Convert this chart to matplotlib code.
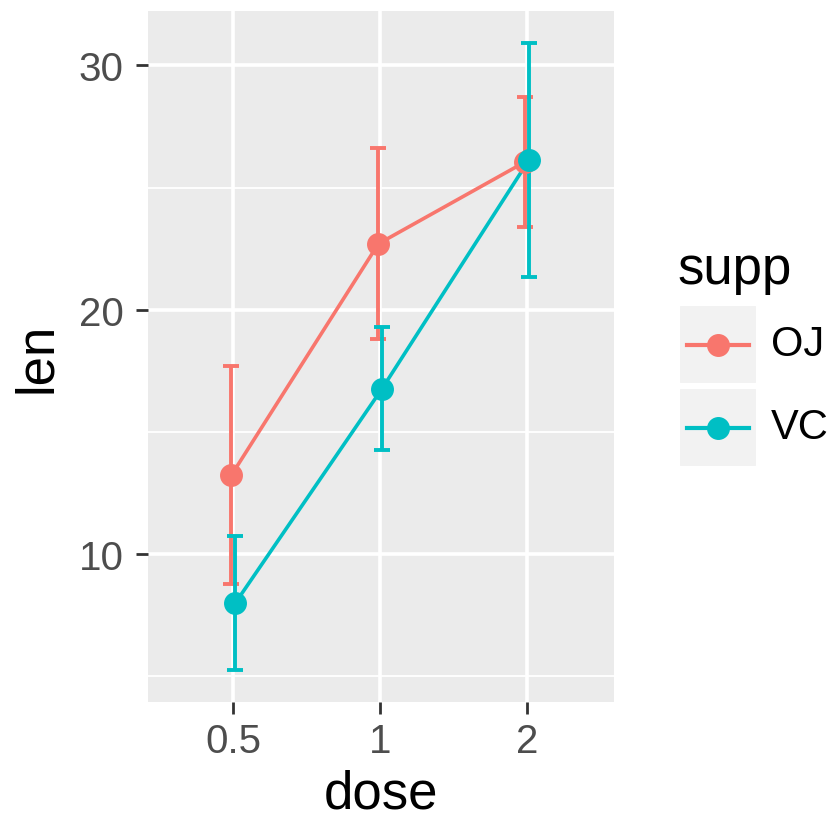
import numpy as np
import matplotlib.pyplot as plt
from matplotlib.patches import Rectangle
from matplotlib.lines import Line2D

plt.rcParams['font.family'] = ['Liberation Sans', 'DejaVu Sans']

# ToothGrowth summary: mean len +/- sd by supp and dose
doses = ['0.5', '1', '2']
supps = ['OJ', 'VC']
oj_mean = [13.23, 22.70, 26.06]
oj_sd = [4.46, 3.91, 2.66]
vc_mean = [7.98, 16.77, 26.14]
vc_sd = [2.75, 2.52, 4.80]
colors = {'OJ': '#F8766D', 'VC': '#00BFC4'}

means = {'OJ': oj_mean, 'VC': vc_mean}
sds = {'OJ': oj_sd, 'VC': vc_sd}
dodge = {'OJ': -0.0125, 'VC': 0.0125}

fig = plt.figure(figsize=(8.31, 8.20), dpi=100)
ax = fig.add_axes([148/831, 1 - 703/820, 466/831, 691/820])
ax.set_facecolor('#EBEBEB')

x = np.arange(1, len(doses) + 1)
for s in supps:
    xs = x + dodge[s]
    m = np.array(means[s])
    sd = np.array(sds[s])
    ax.errorbar(xs, m, yerr=sd, fmt='none', ecolor=colors[s], elinewidth=2.8,
                capsize=6, capthick=2.8, zorder=3)
    ax.plot(xs, m, color=colors[s], lw=2.6, zorder=4)
    ax.plot(xs, m, 'o', color=colors[s], ms=15.5, zorder=5)

ax.set_xlim(0.42, 3.59)
ax.set_ylim(3.94, 32.23)
ax.set_xticks(x)
ax.set_xticklabels(doses)
ax.set_yticks([10, 20, 30])
ax.set_yticks([5, 15, 25], minor=True)

ax.grid(which='major', color='white', lw=2.6, zorder=0)
ax.grid(which='minor', axis='y', color='white', lw=1.3, zorder=0)
ax.set_axisbelow(True)
for sp in ax.spines.values():
    sp.set_visible(False)

ax.tick_params(axis='both', which='major', length=8.5, width=2, color='#333333',
               labelsize=29, labelcolor='#4D4D4D')
ax.tick_params(axis='x', pad=6)
ax.tick_params(axis='y', pad=9)
ax.tick_params(which='minor', length=0)

ax.set_xlabel('dose', fontsize=38, labelpad=6)
ax.set_ylabel('len', fontsize=38, labelpad=12)

# legend drawn ggplot-style
lax = fig.add_axes([679/831, 1 - 470/820, 78/831, 166/820])
lax.set_xlim(0, 1)
lax.set_ylim(0, 2)
lax.axis('off')
for i, s in enumerate(supps):
    y0 = 1 - i
    lax.add_patch(Rectangle((0, y0 + 0.02), 1, 0.96, facecolor='#F2F2F2', edgecolor='white', lw=1.5))
    yc = y0 + 0.5
    lax.add_line(Line2D([0.1, 0.9], [yc, yc], color=colors[s], lw=3))
    lax.plot(0.5, yc, 'o', color=colors[s], ms=15.5)
    lax.text(1.18, yc, s, fontsize=30, va='center', ha='left', transform=lax.transData, clip_on=False)

fig.text(677/831, 1 - 270/820, 'supp', fontsize=38, va='center', ha='left')

fig.savefig('out.png', dpi=100)
